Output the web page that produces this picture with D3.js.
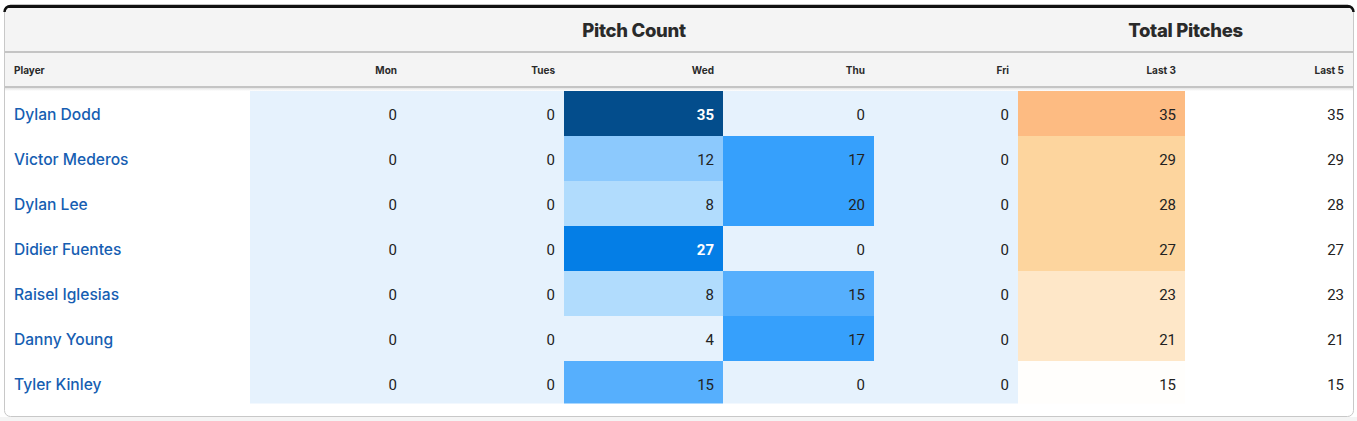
<!DOCTYPE html>
<html>
<head>
<meta charset="utf-8">
<script src="https://d3js.org/d3.v7.min.js"></script>
<style>
  html, body { margin: 0; padding: 0; background: #fff; }
  svg { display: block; }
  .name { font-family: Inter, "Noto Sans", sans-serif; font-weight: 500; font-size: 15.6px; fill: #165eb2; }
  .num { font-family: Roboto, "Noto Sans", sans-serif; font-size: 15px; fill: #222; }
  .group { font-family: Inter, "Noto Sans", sans-serif; font-weight: 800; font-size: 18.5px; fill: #2a2a2a; letter-spacing: -0.3px; }
  .sub { font-family: Inter, "Noto Sans", sans-serif; font-weight: 700; font-size: 10px; fill: #2a2a2a; }
</style>
</head>
<body>
<svg id="chart"></svg>
<script>
// data
let players = ['Dylan Dodd', 'Victor Mederos', 'Dylan Lee', 'Didier Fuentes', 'Raisel Iglesias', 'Danny Young', 'Tyler Kinley'];
let days = ['Mon', 'Tues', 'Wed', 'Thu', 'Fri'];
let mon  = [0, 0, 0, 0, 0, 0, 0];
let tues = [0, 0, 0, 0, 0, 0, 0];
let wed  = [35, 12, 8, 27, 8, 4, 15];
let thu  = [0, 17, 20, 0, 15, 17, 0];
let fri  = [0, 0, 0, 0, 0, 0, 0];
let last3 = [35, 29, 28, 27, 23, 21, 15];
let last5 = [35, 29, 28, 27, 23, 21, 15];
let totalLabels = ['Last 3', 'Last 5'];
let groupLabels = ['Pitch Count', 'Total Pitches'];

let W = 1357, H = 421;
let card = {x: 4.5, y: 6, w: 1349, h: 410.5};
let colWidths = [245.5, 156, 158, 159, 151, 144, 167, 168];
let groupLine = 52, subLine = 87, bodyTop = 91, bodyBottom = 403.5;

let colKeys = ['Player'].concat(days, totalLabels);
let colValues = [null, mon, tues, wed, thu, fri, last3, last5];
let edges = [card.x].concat(Array.from(d3.cumsum(colWidths), v => v + card.x));
let colX = d3.scaleOrdinal().domain(colKeys).range(edges.slice(0, -1));
let colW = d3.scaleOrdinal().domain(colKeys).range(colWidths);

let y = d3.scaleBand().domain(players).range([bodyTop, bodyTop + 45 * players.length]);

let blue = d3.scaleThreshold()
  .domain([6, 10, 14, 16, 24, 31])
  .range(['#e6f2fd', '#b1dcfd', '#8cc9fd', '#56affd', '#36a0fc', '#047ee6', '#034d8c']);
let orange = d3.scaleThreshold()
  .domain([20, 25, 31])
  .range(['#fffefc', '#fee7c8', '#fdd59e', '#fdbb82']);

let svg = d3.select('#chart').attr('width', W).attr('height', H);
let defs = svg.append('defs');

svg.append('rect').attr('x', 0).attr('y', 417).attr('width', W).attr('height', 4).attr('fill', '#f4f4f4');

defs.append('clipPath').attr('id', 'cardClip')
  .append('rect').attr('x', card.x).attr('y', card.y).attr('width', card.w).attr('height', card.h).attr('rx', 6);

let g = svg.append('g').attr('clip-path', 'url(#cardClip)');

// header background
g.append('rect').attr('x', card.x).attr('y', card.y).attr('width', card.w).attr('height', subLine - card.y + 1)
  .attr('fill', '#f4f4f4');
g.append('rect').attr('x', card.x).attr('y', card.y - 2).attr('width', card.w).attr('height', 4).attr('fill', '#111');

// header lines
[groupLine, subLine].forEach(ly => {
  g.append('rect').attr('x', card.x).attr('y', ly - 1).attr('width', card.w).attr('height', 2).attr('fill', '#c4c4c4');
});
let shadow = defs.append('linearGradient').attr('id', 'shadow').attr('x1', 0).attr('x2', 0).attr('y1', 0).attr('y2', 1);
shadow.append('stop').attr('offset', 0).attr('stop-color', '#e4e4e4');
shadow.append('stop').attr('offset', 1).attr('stop-color', '#ffffff');
g.append('rect').attr('x', card.x).attr('y', subLine + 1).attr('width', card.w).attr('height', bodyTop - subLine - 1)
  .attr('fill', 'url(#shadow)');

// group headers
let groupSpans = [[days[0], days[days.length - 1]], [totalLabels[0], totalLabels[1]]];
g.selectAll('text.group').data(groupLabels).join('text')
  .attr('class', 'group')
  .attr('x', (d, i) => (colX(groupSpans[i][0]) + colX(groupSpans[i][1]) + colW(groupSpans[i][1])) / 2)
  .attr('y', 37)
  .attr('text-anchor', 'middle')
  .text(d => d);

// sub headers
g.selectAll('text.sub').data(colKeys).join('text')
  .attr('class', 'sub')
  .attr('x', (d, i) => i === 0 ? colX(d) + 9.5 : colX(d) + colW(d) - 9)
  .attr('y', 74)
  .attr('text-anchor', (d, i) => i === 0 ? 'start' : 'end')
  .text(d => d);

// body
defs.append('clipPath').attr('id', 'bodyClip')
  .append('rect').attr('x', card.x).attr('y', bodyTop).attr('width', card.w).attr('height', bodyBottom - bodyTop);
let rows = g.append('g').attr('clip-path', 'url(#bodyClip)')
  .selectAll('g.row').data(players).join('g')
  .attr('class', 'row')
  .attr('transform', d => `translate(0, ${y(d)})`);

rows.append('text')
  .attr('class', 'name')
  .attr('x', colX('Player') + 9.5)
  .attr('y', y.bandwidth() / 2 + 6.5)
  .text(d => d);

colKeys.slice(1).forEach((key, ci) => {
  let vals = colValues[ci + 1];
  let isDay = ci < days.length;
  let isLast5 = key === 'Last 5';
  let fill = v => isDay ? blue(v) : (isLast5 ? '#ffffff' : orange(v));
  rows.append('rect')
    .attr('x', colX(key))
    .attr('y', 0)
    .attr('width', colW(key))
    .attr('height', y.bandwidth())
    .attr('fill', (d, i) => fill(vals[i]));
  rows.append('text')
    .attr('class', 'num')
    .attr('x', colX(key) + colW(key) - 9)
    .attr('y', y.bandwidth() / 2 + 6.5)
    .attr('text-anchor', 'end')
    .style('fill', (d, i) => isDay && vals[i] > 24 ? '#fff' : null)
    .style('font-weight', (d, i) => isDay && vals[i] > 24 ? 700 : null)
    .text((d, i) => vals[i]);
});

// card outline
svg.append('rect').attr('x', card.x).attr('y', card.y).attr('width', card.w).attr('height', card.h)
  .attr('rx', 6).attr('fill', 'none').attr('stroke', '#c8c8c8').attr('stroke-width', 1);
svg.append('path')
  .attr('d', `M${card.x},${card.y + 6} A6,6 0 0 1 ${card.x + 6},${card.y} L${card.x + card.w - 6},${card.y} A6,6 0 0 1 ${card.x + card.w},${card.y + 6}`)
  .attr('fill', 'none').attr('stroke', '#111').attr('stroke-width', 2.5);
</script>
</body>
</html>
